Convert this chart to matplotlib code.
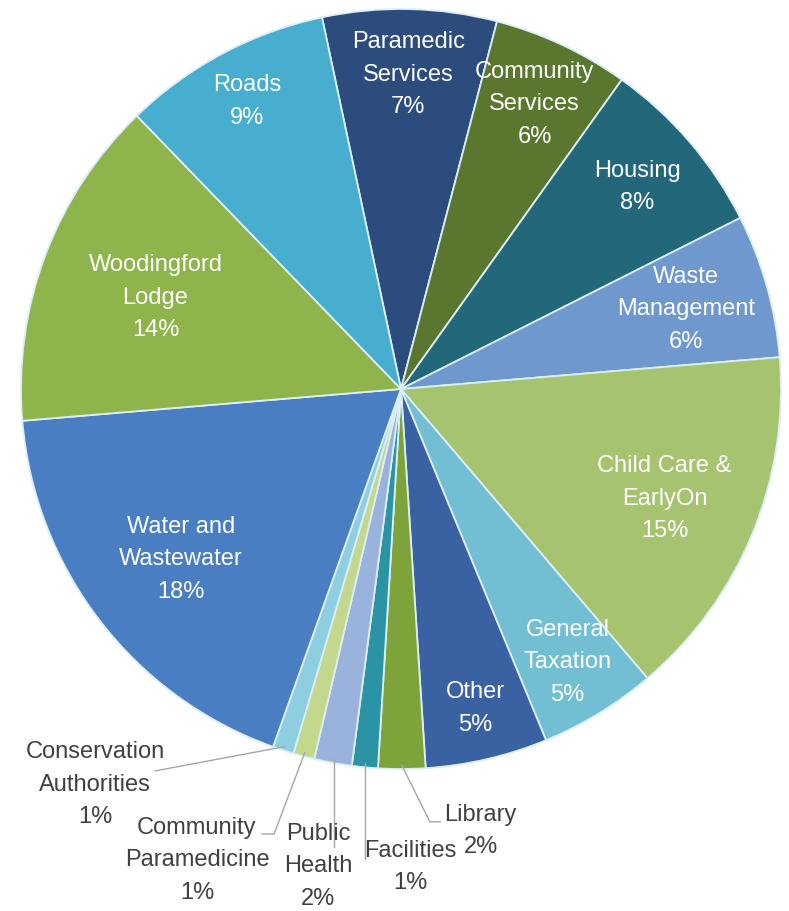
import numpy as np
import matplotlib.pyplot as plt

plt.rcParams['font.family'] = ['Liberation Sans', 'DejaVu Sans']

# budget share by service area, clockwise from the top
labels = ['Paramedic\nServices', 'Community\nServices', 'Housing', 'Waste\nManagement',
          'Child Care &\nEarlyOn', 'General\nTaxation', 'Other', 'Library', 'Facilities',
          'Public\nHealth', 'Community\nParamedicine', 'Conservation\nAuthorities',
          'Water and\nWastewater', 'Woodingford\nLodge', 'Roads']
shares = [7.4, 5.8, 7.7, 6.1, 15.1, 5.0, 5.2, 2.0, 1.1, 1.6, 0.9, 0.9, 18.2, 14.1, 8.9]
colors = ['#2D4C7E', '#5B762E', '#23687A', '#6F98CF', '#A6C46F', '#72BFD4', '#3A62A2',
          '#7DA33A', '#2A93A4', '#9AB3DC', '#C4D88D', '#8DCFE0', '#4A7EC2', '#8EB44B',
          '#47AECF']

# radial position of the labels drawn inside the wedges (None = placed outside)
label_r = [0.83, 0.83, 0.82, 0.78, 0.75, 0.84, 0.86, None, None, None, None, None,
           0.73, 0.69, 0.86]

# outside labels: text centre and leader-line points after the rim
# (x of None means straight down from the rim point)
outside = {
    'Library': ((0.21, -1.16), [(0.076, -1.139), (0.103, -1.139)]),
    'Facilities': ((0.024, -1.255), [(None, -1.237)]),
    'Public\nHealth': ((-0.218, -1.253), [(None, -1.205)]),
    'Community\nParamedicine': ((-0.537, -1.237), [(-0.334, -1.171), (-0.366, -1.171)]),
    'Conservation\nAuthorities': ((-0.805, -1.039), [(-0.647, -1.005)]),
}

fig = plt.figure(figsize=(7.89, 9.12), dpi=100)
ax = fig.add_axes([0, 0, 1, 1])

wedges, _ = ax.pie(shares, colors=colors, startangle=102, counterclock=False,
                   radius=1.0, center=(0, 0),
                   wedgeprops=dict(edgecolor='#DCEFF7', linewidth=1.3))

total = sum(shares)
for w, lab, val, r in zip(wedges, labels, shares, label_r):
    mid = np.deg2rad((w.theta1 + w.theta2) / 2)
    txt = '%s\n%.0f%%' % (lab, val / total * 100)
    if r is not None:
        ax.text(r * np.cos(mid), r * np.sin(mid), txt, ha='center', va='center',
                fontsize=17, color='white', linespacing=1.62)
    else:
        (tx, ty), bends = outside[lab]
        sx, sy = 0.99 * np.cos(mid), 0.99 * np.sin(mid)
        xs, ys = [sx], [sy]
        for bx, by in bends:
            xs.append(sx if bx is None else bx)
            ys.append(by)
        ax.plot(xs, ys, color='#A6A6A6', lw=1.0)
        ax.text(tx, ty, txt, ha='center', va='center', fontsize=17,
                color='#404040', linespacing=1.62)

ax.set_xlim(-401 / 380, 388 / 380)
ax.set_ylim(-522 / 380, 390 / 380)
ax.set_aspect('equal')
ax.axis('off')

fig.savefig('out.png', dpi=100, facecolor='white')
